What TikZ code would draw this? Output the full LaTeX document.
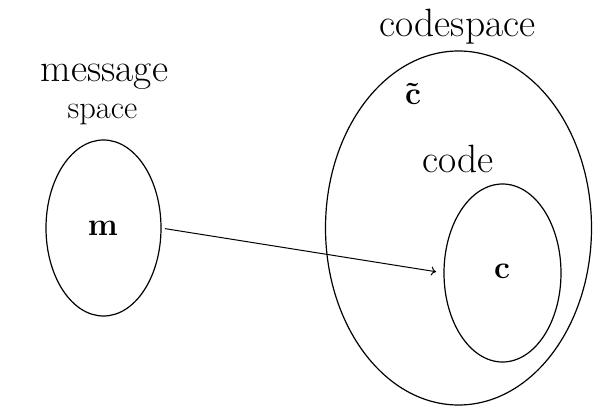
\documentclass[tikz,border=0pt]{standalone}
\usetikzlibrary{shapes.geometric,arrows.meta}
\begin{document}
\begin{tikzpicture}[x=1pt,y=-1pt,
  set/.style={draw,ellipse,line width=1.2pt,inner sep=0pt,outer sep=0pt},
  biglabel/.style={anchor=base,inner sep=0pt,font=\fontsize{39.5}{44}\selectfont},
  smalllabel/.style={anchor=base,inner sep=0pt,font=\fontsize{32.5}{36}\selectfont},
  elem/.style={anchor=base,inner sep=0pt,font=\fontsize{32}{36}\selectfont\bfseries}]
\useasboundingbox (0,0) rectangle (602,411);
\node[set,minimum width=115pt,minimum height=176pt] (msgset) at (103.5,228) {};
\node[set,minimum width=266pt,minimum height=354pt] (cspace) at (458.5,228) {};
\node[set,minimum width=117pt,minimum height=178pt] (codeset) at (502.5,273) {};
\node[biglabel] (lmessage) at (104.5,82) {message};
\node[smalllabel] (lspace) at (102.5,119) {space};
\node[biglabel] (lcodespace) at (457.5,37) {codespace};
\node[biglabel] (lcode) at (458,173) {code};
\node[elem] (ctilde) at (413,105) {\~{c}};
\node[elem] (m) at (103,236) {m};
\node[elem] (c) at (502,279) {c};
\draw[-{To[length=5pt,width=9pt]},line width=1pt,shorten <=4pt,shorten >=8pt] (msgset.east) -- (codeset.west);
\end{tikzpicture}
\end{document}
